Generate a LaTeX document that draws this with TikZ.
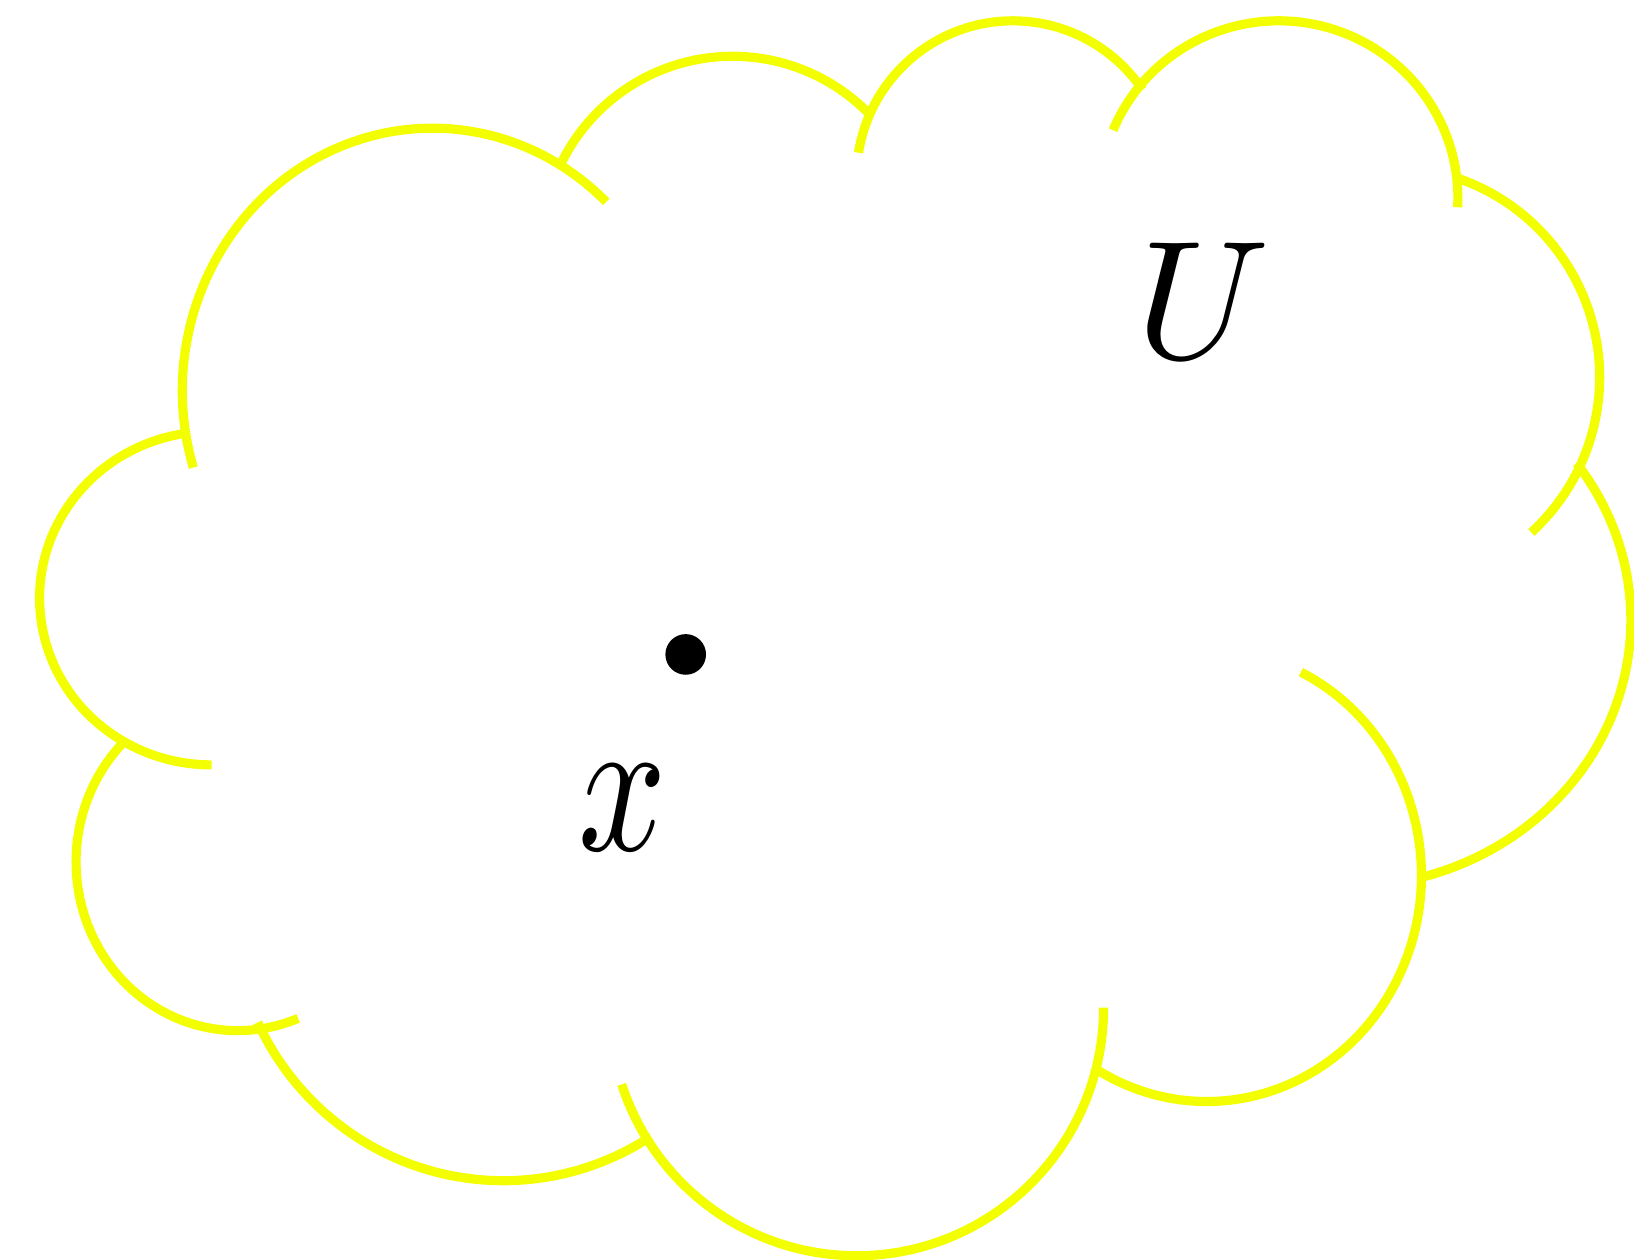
\documentclass[tikz,border=0pt]{standalone}
\definecolor{cloudyellow}{RGB}{243,255,0}
\tikzset{
  cloudarc/.style={draw=cloudyellow, line width=8.8pt},
  dotnode/.style={circle, fill=black, inner sep=0pt, minimum size=39pt},
  biglabel/.style={inner sep=0pt, text=black}
}
% \cloudpiece{cx}{cy(img)}{rx}{ry}{start}{end}
\newcommand{\cloudpiece}[6]{%
  \draw[cloudarc] (#1,-#2) ++(#5:#3 and #4) arc[start angle=#5, end angle=#6, x radius=#3, y radius=#4];}
\begin{document}
\begin{tikzpicture}[x=1pt,y=1pt]
\useasboundingbox (0,0) rectangle (1568,-1209);
\cloudpiece{415}{375}{240}{252}{197}{46}
\cloudpiece{703}{237}{183}{183}{155}{44}
\cloudpiece{972}{170}{150}{150}{171}{34}
\cloudpiece{1227}{190}{172}{170}{157.5}{-3}
\cloudpiece{1333}{362}{202}{202}{72}{-47.5}
\cloudpiece{1292}{595}{273}{256}{36}{-75}
\cloudpiece{1158}{840}{206}{217}{64}{-122}
\cloudpiece{822}{967}{237}{238}{0}{-162}
\cloudpiece{483}{870}{260}{263}{205}{303}
\cloudpiece{228}{827}{155}{162}{136}{292}
\cloudpiece{203}{574}{165}{160}{100}{270}
\node[dotnode] (dot) at (658,-628) {};
\node[biglabel, scale=16.2] (U) at (1155,-289) {$U$};
\node[biglabel, scale=19, xscale=0.78] (x) at (597,-775) {$x$};
\end{tikzpicture}
\end{document}
